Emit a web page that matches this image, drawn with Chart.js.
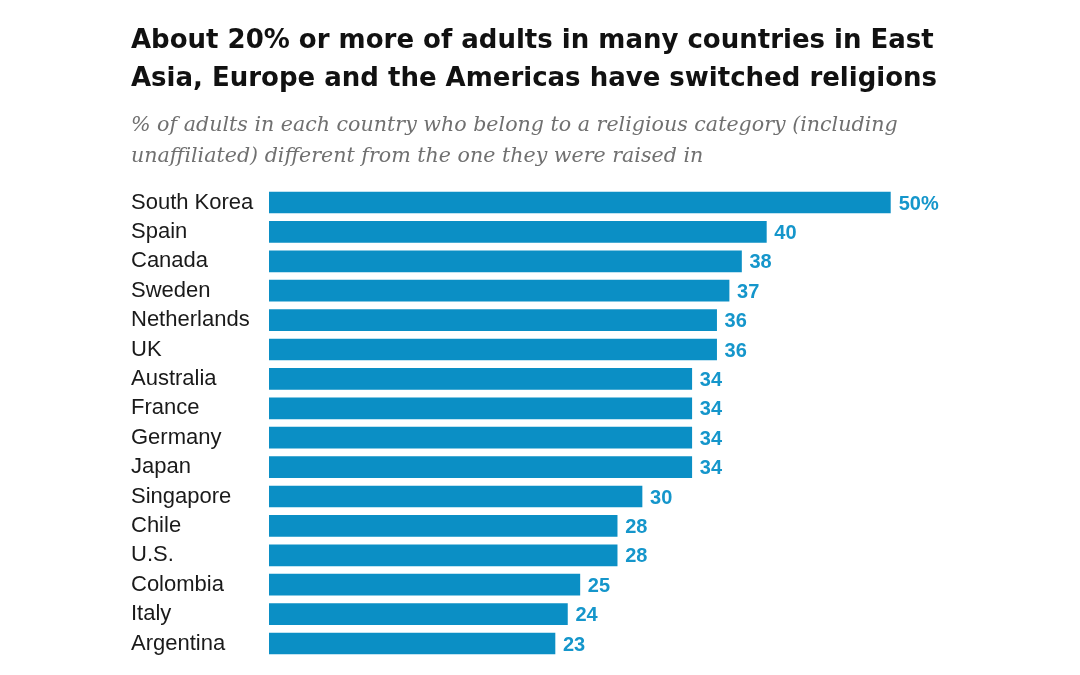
<!DOCTYPE html>
<html>
<head>
<meta charset="utf-8">
<script src="https://cdn.jsdelivr.net/npm/chart.js@4/dist/chart.umd.min.js"></script>
<style>
    body { margin: 0; background: #fff; }
    #wrap { position: relative; width: 1080px; height: 675px; overflow: hidden; }
    #myChart { position: absolute; left: 0; top: 0; }
    .title {
        position: absolute; left: 131px; top: 20px;
        font: bold 26px "DejaVu Sans", sans-serif;
        line-height: 38px; color: #111; margin: 0; white-space: nowrap;
    }
    .subtitle {
        position: absolute; left: 131px; top: 109px;
        font: italic 20.6px "DejaVu Serif", Georgia, serif;
        line-height: 31px; color: #707070; margin: 0; white-space: nowrap;
    }
</style>
</head>
<body>
<div id="wrap">
    <canvas id="myChart" width="1080" height="675"></canvas>
    <h1 class="title">About 20% or more of adults in many countries in East<br>Asia, Europe and the Americas have switched religions</h1>
    <p class="subtitle">% of adults in each country who belong to a religious category (including<br>unaffiliated) different from the one they were raised in</p>
</div>
<script>
// #region data
const countries = [
    'South Korea', 'Spain', 'Canada', 'Sweden', 'Netherlands', 'UK',
    'Australia', 'France', 'Germany', 'Japan', 'Singapore', 'Chile',
    'U.S.', 'Colombia', 'Italy', 'Argentina'
];
const switchedPct = [50, 40, 38, 37, 36, 36, 34, 34, 34, 34, 30, 28, 28, 25, 24, 23];
// #endregion data

const
    barBlue = '#0b8fc5',
    labelBlue = '#1596cb';

// value labels at the end of each bar, first one gets a % sign
const valueLabels = {
    id: 'valueLabels',
    afterDatasetsDraw(chart) {
        const ctx = chart.ctx;
        const meta = chart.getDatasetMeta(0);
        ctx.save();
        ctx.font = 'bold 20px "Liberation Sans", Arial, sans-serif';
        ctx.fillStyle = labelBlue;
        ctx.textAlign = 'left';
        ctx.textBaseline = 'middle';
        meta.data.forEach((bar, i) => {
            const txt = switchedPct[i] + (i === 0 ? '%' : '');
            ctx.fillText(txt, bar.x + 8, bar.y + 1.5);
        });
        ctx.restore();
    }
};

new Chart(document.querySelector('#myChart'), {
    type: 'bar',
    data: {
        labels: countries,
        datasets: [{
            data: switchedPct,
            backgroundColor: barBlue,
            borderWidth: 0,
            barThickness: 21
        }]
    },
    options: {
        indexAxis: 'y',
        responsive: false,
        animation: false,
        devicePixelRatio: 1,
        layout: {
            padding: { left: 131, right: 189.3, top: 187.8, bottom: 16.8 }
        },
        plugins: {
            legend: { display: false },
            tooltip: { enabled: false }
        },
        scales: {
            x: {
                display: false,
                min: 0,
                max: 50
            },
            y: {
                grid: { display: false },
                border: { display: false },
                ticks: {
                    crossAlign: 'far',
                    color: '#1a1a1a',
                    padding: 0,
                    font: { family: '"Liberation Sans", Arial, sans-serif', size: 22 }
                },
                afterFit(scale) {
                    scale.width = 138;
                }
            }
        }
    },
    plugins: [valueLabels]
});
</script>
</body>
</html>
